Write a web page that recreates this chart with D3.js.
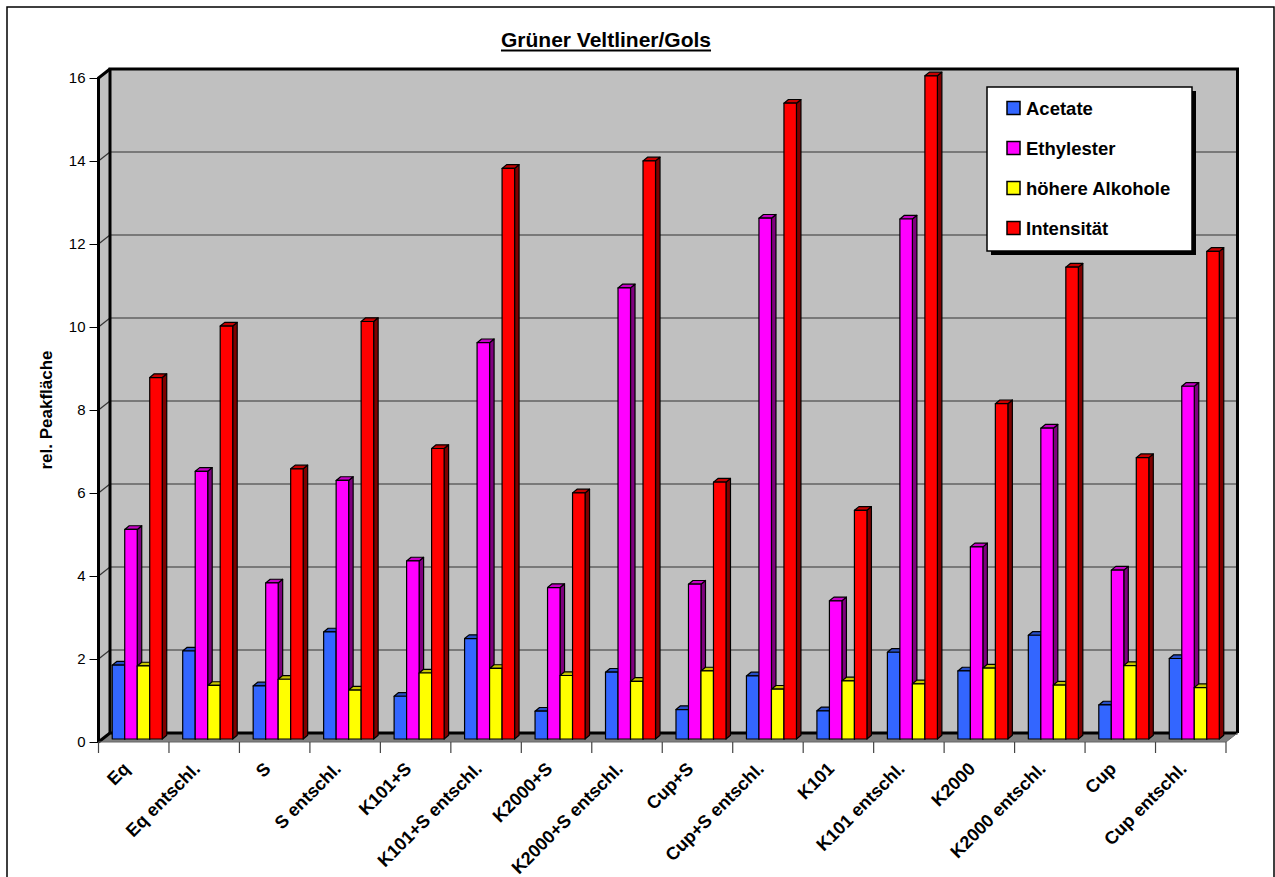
<!DOCTYPE html>
<html>
<head>
<meta charset="utf-8">
<script src="https://cdn.jsdelivr.net/npm/d3@7"></script>
<style>
  html, body { margin: 0; padding: 0; background: #fff; }
  svg { display: block; font-family: "Liberation Sans", Arial, sans-serif; }
</style>
</head>
<body>
<svg id="chart" width="1275" height="877"></svg>
<script>
// ---- data ----
const title = "Grüner Veltliner/Gols";
const yLabel = "rel. Peakfläche";
const categories = ["Eq", "Eq entschl.", "S", "S entschl.", "K101+S", "K101+S entschl.",
  "K2000+S", "K2000+S entschl.", "Cup+S", "Cup+S entschl.", "K101", "K101 entschl.",
  "K2000", "K2000 entschl.", "Cup", "Cup entschl."];
const seriesNames = ["Acetate", "Ethylester", "höhere Alkohole", "Intensität"];
const acetate   = [1.78, 2.12, 1.28, 2.58, 1.03, 2.42, 0.67, 1.61, 0.71, 1.52, 0.68, 2.09, 1.64, 2.50, 0.82, 1.94];
const ethylester= [5.05, 6.45, 3.76, 6.23, 4.29, 9.55, 3.65, 10.87, 3.73, 12.55, 3.33, 12.53, 4.63, 7.49, 4.07, 8.50];
const alkohole  = [1.76, 1.29, 1.44, 1.18, 1.59, 1.70, 1.53, 1.39, 1.64, 1.20, 1.40, 1.33, 1.71, 1.30, 1.77, 1.24];
const intensitaet=[8.71, 9.95, 6.51, 10.06, 7.00, 13.75, 5.93, 13.93, 6.19, 15.32, 5.51, 15.98, 8.08, 11.37, 6.78, 11.75];
const yTicks = [0, 2, 4, 6, 8, 10, 12, 14, 16];
const colors = ["#3366FF", "#FF00FF", "#FFFF00", "#FF0000"];

const seriesValues = [acetate, ethylester, alkohole, intensitaet];

// ---- layout ----
const svg = d3.select("#chart");
const FX0 = 98.5, FX1 = 1226;       // front floor edge
const DX = 11.5, DY = -9;           // wall depth
const y = d3.scaleLinear().domain([0, 16]).range([742, 78]);
const x = d3.scaleBand().domain(categories).range([FX0, FX1]);
const bw = x.bandwidth();
const groupW = 50;
const xs = d3.scaleBand().domain(seriesNames).range([(bw - groupW) / 2, (bw + groupW) / 2]);
const BDX = 3.5, BDY = -3;          // bar offset into depth
const bdx = 4.5, bdy = -3.7;        // bar depth

// outer border
svg.append("rect").attr("x", 7).attr("y", 7).attr("width", 1267).attr("height", 900)
  .attr("fill", "#fff").attr("stroke", "#000").attr("stroke-width", 1.5);

// title
const t = svg.append("text").attr("x", 606).attr("y", 47).attr("text-anchor", "middle")
  .attr("font-size", 21).attr("font-weight", "bold").text(title);
const tw = t.node().getComputedTextLength();
svg.append("line").attr("x1", 606 - tw / 2).attr("x2", 606 + tw / 2)
  .attr("y1", 50.5).attr("y2", 50.5).attr("stroke", "#000").attr("stroke-width", 2);

const y0 = y(0), yTop = y(16);
const BX0 = FX0 + DX, BX1 = FX1 + DX;

// back wall
svg.append("rect").attr("x", BX0).attr("y", yTop + DY).attr("width", BX1 - BX0)
  .attr("height", y0 - yTop).attr("fill", "#C0C0C0");
// left wall
svg.append("polygon").attr("points", [[FX0, yTop], [BX0, yTop + DY], [BX0, y0 + DY], [FX0, y0]].join(" "))
  .attr("fill", "#C0C0C0");
// floor
svg.append("polygon").attr("points", [[FX0, y0], [BX0, y0 + DY], [BX1, y0 + DY], [FX1, y0]].join(" "))
  .attr("fill", "#808080");

// gridlines
const grid = svg.append("g");
yTicks.forEach(v => {
  if (v === 0 || v === 16) return;
  const yy = y(v);
  grid.append("line").attr("x1", BX0).attr("x2", BX1).attr("y1", yy + DY).attr("y2", yy + DY)
    .attr("stroke", "#333").attr("stroke-width", 1.2);
  grid.append("line").attr("x1", FX0).attr("x2", BX0).attr("y1", yy).attr("y2", yy + DY)
    .attr("stroke", "#333").attr("stroke-width", 1.2);
});

// wall borders
const thick = (pts, w) => svg.append("polyline").attr("points", pts.join(" "))
  .attr("fill", "none").attr("stroke", "#000").attr("stroke-width", w).attr("stroke-linejoin", "miter");
thick([[BX0, y0 + DY], [BX0, yTop + DY], [BX1, yTop + DY], [BX1, y0 + DY]], 3);
thick([[FX0, y0], [FX0, yTop], [BX0, yTop + DY]], 3);
thick([[FX0, y0], [BX0, y0 + DY], [BX1, y0 + DY]], 3);
svg.append("line").attr("x1", FX1).attr("y1", y0).attr("x2", BX1).attr("y2", y0 + DY)
  .attr("stroke", "#666").attr("stroke-width", 1);
svg.append("line").attr("x1", FX0).attr("y1", y0).attr("x2", FX1).attr("y2", y0)
  .attr("stroke", "#666").attr("stroke-width", 1);

// y axis ticks and labels
const yAxisG = svg.append("g").attr("transform", `translate(${FX0},0)`);
yAxisG.call(d3.axisLeft(y).tickValues(yTicks).tickSize(9).tickPadding(4).tickFormat(d3.format("d")));
yAxisG.select(".domain").remove();
yAxisG.selectAll("line").attr("stroke", "#000").attr("stroke-width", 1);
yAxisG.selectAll("text").attr("font-size", 15).attr("fill", "#000")
  .attr("font-family", "'Liberation Sans', Arial, sans-serif");

// y label
svg.append("text").attr("transform", "translate(52,410) rotate(-90)")
  .attr("text-anchor", "middle").attr("font-size", 17).attr("font-weight", "bold").text(yLabel);

// x ticks
const xTickG = svg.append("g");
categories.forEach((c, i) => {
  xTickG.append("line").attr("x1", x(c)).attr("x2", x(c)).attr("y1", y0).attr("y2", y0 + 11)
    .attr("stroke", "#444").attr("stroke-width", 1.2);
});
xTickG.append("line").attr("x1", FX1).attr("x2", FX1).attr("y1", y0).attr("y2", y0 + 11)
  .attr("stroke", "#444").attr("stroke-width", 1.2);

// x labels
categories.forEach(c => {
  const cx = x(c) + bw / 2;
  svg.append("text").attr("transform", `translate(${cx - 3},770) rotate(-45)`)
    .attr("text-anchor", "end").attr("font-size", 18).attr("font-weight", "bold").text(c);
});

// bars
const barsG = svg.append("g");
categories.forEach((c, ci) => {
  seriesNames.forEach((s, si) => {
    const v = seriesValues[si][ci];
    const col = d3.color(colors[si]);
    const top = col.darker(0.7).formatHex();
    const side = col.darker(1.95).formatHex();
    const x0 = x(c) + xs(s) + BDX;
    const w = xs.bandwidth();
    const yt = y(v) + BDY;
    const yb = y(0) + BDY;
    const g = barsG.append("g").attr("stroke", "#000").attr("stroke-width", 1.2).attr("stroke-linejoin", "round");
    g.append("polygon").attr("points", [[x0 + w, yt], [x0 + w + bdx, yt + bdy], [x0 + w + bdx, yb + bdy], [x0 + w, yb]].join(" "))
      .attr("fill", side);
    g.append("polygon").attr("points", [[x0, yt], [x0 + bdx, yt + bdy], [x0 + w + bdx, yt + bdy], [x0 + w, yt]].join(" "))
      .attr("fill", top);
    g.append("rect").attr("x", x0).attr("y", yt).attr("width", w).attr("height", yb - yt)
      .attr("fill", colors[si]);
  });
});

// legend
const L = { x: 987, y: 87, w: 205, h: 164 };
svg.append("rect").attr("x", L.x + 4).attr("y", L.y + 4).attr("width", L.w).attr("height", L.h).attr("fill", "#000");
svg.append("rect").attr("x", L.x).attr("y", L.y).attr("width", L.w).attr("height", L.h)
  .attr("fill", "#fff").attr("stroke", "#000").attr("stroke-width", 1.5);
const ly = d3.scalePoint().domain(seriesNames).range([108, 228]);
seriesNames.forEach((s, i) => {
  svg.append("rect").attr("x", 1007).attr("y", ly(s) - 6.5).attr("width", 13).attr("height", 13)
    .attr("fill", colors[i]).attr("stroke", "#000").attr("stroke-width", 1.5);
  svg.append("text").attr("x", 1026).attr("y", ly(s) + 7).attr("font-size", 18.5)
    .attr("font-weight", "bold").text(s);
});
</script>
</body>
</html>
